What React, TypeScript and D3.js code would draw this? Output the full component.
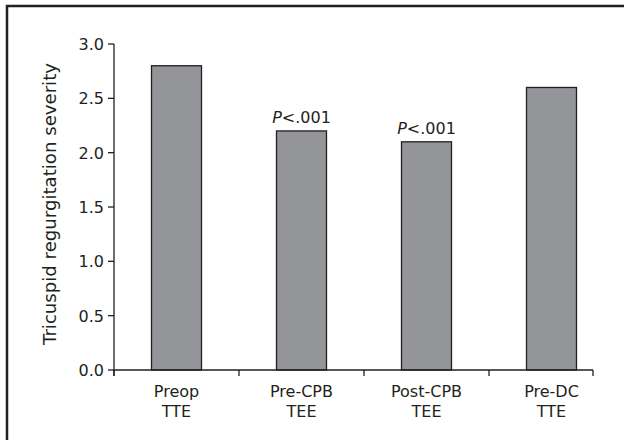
import React from 'react';
import * as d3 from 'd3';

const categories = ['Preop|TTE', 'Pre-CPB|TEE', 'Post-CPB|TEE', 'Pre-DC|TTE'];
const severity = [2.8, 2.2, 2.1, 2.6];
const pLabels = ['', '<.001', '<.001', ''];
const yTicks = [0, 0.5, 1.0, 1.5, 2.0, 2.5, 3.0];

const W = 624;
const H = 440;
const left = 114;
const right = 614;
const axisEnd = 593;
const top = 44;
const bottom = 370;
const ink = '#231f20';
const font = '"DejaVu Sans", sans-serif';

export default function App() {
  const x = d3.scaleBand<string>()
    .domain(categories)
    .range([left, right])
    .paddingInner(0.6)
    .paddingOuter(0.3);
  const y = d3.scaleLinear().domain([0, 3]).range([bottom, top]);

  const gap = (x.step() - x.bandwidth()) / 2;
  const xTicks = categories.map(c => (x(c) as number) - gap).concat([axisEnd]);

  return (
    <svg width={W} height={H} style={{ position: 'absolute', left: 0, top: 0 }}
      fontFamily={font} fill={ink}>
      <rect x={0} y={0} width={W} height={H} fill="#fff" />
      <rect x={7} y={6} width={W + 20} height={H + 20} fill="none" stroke={ink} strokeWidth={2.5} />

      {categories.map((c, i) => (
        <rect key={c} x={x(c)} y={y(severity[i])} width={x.bandwidth()}
          height={bottom - y(severity[i])} fill="#939598" stroke={ink} strokeWidth={1.3} />
      ))}

      {categories.map((c, i) => pLabels[i] && (
        <text key={'p' + c} x={(x(c) as number) + x.bandwidth() / 2} y={y(severity[i]) - 8}
          textAnchor="middle" fontSize={16}>
          <tspan fontStyle="italic">P</tspan>{pLabels[i]}
        </text>
      ))}

      <line x1={left} x2={left} y1={top} y2={bottom + 6} stroke={ink} strokeWidth={1.3} />
      <line x1={left} x2={axisEnd} y1={bottom} y2={bottom} stroke={ink} strokeWidth={1.3} />

      {yTicks.map(t => (
        <g key={t}>
          <line x1={left - 6} x2={left} y1={y(t)} y2={y(t)} stroke={ink} strokeWidth={1.3} />
          <text x={104} y={y(t) + 6} textAnchor="end" fontSize={16}>{t.toFixed(1)}</text>
        </g>
      ))}

      {xTicks.map(t => (
        <line key={t} x1={t} x2={t} y1={bottom} y2={bottom + 6} stroke={ink} strokeWidth={1.3} />
      ))}

      {categories.map(c => {
        const [a, b] = c.split('|');
        const cx = (x(c) as number) + x.bandwidth() / 2;
        return (
          <text key={'l' + c} x={cx} textAnchor="middle" fontSize={16}>
            <tspan x={cx} y={397}>{a}</tspan>
            <tspan x={cx} y={417}>{b}</tspan>
          </text>
        );
      })}

      <text transform={`translate(56,${(63 + 345) / 2}) rotate(-90)`} textAnchor="middle"
        fontSize={17} textLength={282} lengthAdjust="spacingAndGlyphs">
        Tricuspid regurgitation severity
      </text>
    </svg>
  );
}
